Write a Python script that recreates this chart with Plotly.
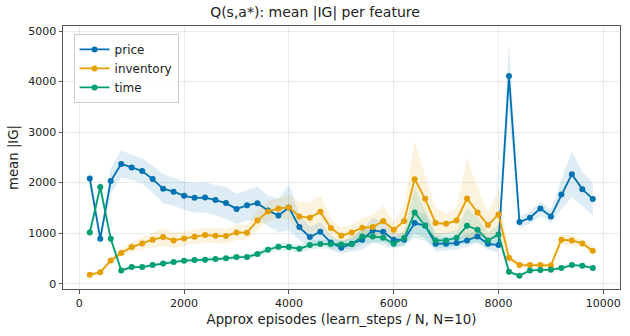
import plotly.graph_objects as go

episodes = list(range(200, 10000, 200))

price = [2080, 890, 2030, 2370, 2300, 2230, 2070, 1880, 1820, 1740,
         1700, 1705, 1655, 1595, 1480, 1550, 1594, 1450, 1350, 1509,
         1120, 922, 1028, 817, 711, 790, 870, 1054, 1028, 870,
         870, 1199, 1150, 790, 790, 804, 856, 935, 790, 764,
         4111, 1219, 1304, 1488, 1330, 1765, 2167, 1871, 1674]
price_sd = [170, 90, 250, 270, 250, 250, 270, 290, 280, 280,
            290, 300, 300, 320, 300, 300, 330, 300, 330, 450,
            250, 200, 200, 150, 120, 150, 200, 250, 200, 150,
            120, 200, 250, 150, 130, 130, 120, 120, 120, 150,
            650, 120, 120, 150, 130, 300, 450, 350, 330]

inventory = [178, 224, 461, 606, 725, 797, 870, 922, 856, 896,
             929, 962, 949, 942, 1014, 1010, 1252, 1429, 1488, 1509,
             1330, 1304, 1423, 1100, 949, 1014, 1107, 1120, 1239, 1067,
             1239, 2069, 1680, 1199, 1186, 1252, 1686, 1410, 1159, 1370,
             514, 369, 369, 369, 362, 870, 856, 797, 652]
inventory_sd = [30, 30, 50, 80, 100, 120, 150, 180, 150, 140,
                140, 150, 150, 150, 150, 150, 200, 200, 200, 250,
                300, 300, 330, 200, 150, 150, 200, 250, 300, 150,
                300, 750, 450, 300, 200, 250, 800, 500, 250, 480,
                80, 50, 50, 50, 50, 100, 100, 80, 80]

time_ = [1014, 1911, 889, 263, 329, 329, 369, 402, 428, 455,
         468, 474, 488, 501, 527, 530, 586, 672, 731, 725,
         692, 764, 784, 784, 777, 784, 935, 935, 909, 790,
         902, 1410, 1146, 856, 856, 909, 1146, 1067, 856, 975,
         237, 158, 263, 270, 277, 310, 369, 356, 310]
time_sd = [100, 150, 80, 50, 40, 40, 40, 40, 40, 40,
           40, 40, 40, 45, 50, 50, 60, 70, 80, 80,
           80, 90, 90, 90, 90, 100, 150, 120, 150, 100,
           150, 500, 300, 150, 150, 150, 350, 250, 150, 200,
           40, 30, 30, 30, 30, 30, 35, 30, 30]

x_ticks = [0, 2000, 4000, 6000, 8000, 10000]
y_ticks = [0, 1000, 2000, 3000, 4000, 5000]

series = [
    ("price", price, price_sd, "#0072B2", "rgba(0,114,178,0.13)"),
    ("inventory", inventory, inventory_sd, "#E69F00", "rgba(230,159,0,0.13)"),
    ("time", time_, time_sd, "#009E73", "rgba(0,158,115,0.13)"),
]

fig = go.Figure()
for name, m, sd, col, fillc in series:
    up = [a + b for a, b in zip(m, sd)]
    lo = [a - b for a, b in zip(m, sd)]
    fig.add_trace(go.Scatter(
        x=episodes + episodes[::-1], y=up + lo[::-1],
        fill="toself", fillcolor=fillc, line=dict(width=0),
        mode="lines", hoverinfo="skip", showlegend=False))

for name, m, sd, col, fillc in series:
    fig.add_trace(go.Scatter(
        x=episodes, y=m, name=name, mode="lines+markers",
        line=dict(color=col, width=1.8),
        marker=dict(color=col, size=6)))

axis_common = dict(
    showline=True, linecolor="#555555", linewidth=1, mirror=True,
    showgrid=True, gridcolor="rgba(0,0,0,0.08)", gridwidth=1,
    ticks="outside", ticklen=3.5, tickcolor="#555555",
    zeroline=False, tickformat="d",
    tickfont=dict(family="DejaVu Sans", size=11, color="#222222"),
)

fig.update_layout(
    width=630, height=336,
    margin=dict(l=63, r=10, t=26, b=47),
    paper_bgcolor="white", plot_bgcolor="white",
    font=dict(family="DejaVu Sans", color="#222222"),
    title=dict(text="Q(s,a*): mean |IG| per feature", x=0.5, xanchor="center",
               y=0.963, yanchor="middle",
               font=dict(family="DejaVu Sans", size=14, color="#222222")),
    xaxis=dict(range=[-311, 10319], tickvals=x_ticks,
               title=dict(text="Approx episodes (learn_steps / N, N=10)",
                          font=dict(family="DejaVu Sans", size=13.3), standoff=5),
               **axis_common),
    yaxis=dict(range=[-105, 5099], tickvals=y_ticks,
               title=dict(text="mean |IG|", font=dict(family="DejaVu Sans", size=13.3),
                          standoff=6),
               **axis_common),
    legend=dict(x=0.019, y=0.97, xanchor="left", yanchor="top",
                bgcolor="rgba(255,255,255,0.8)", bordercolor="#cccccc", borderwidth=1,
                font=dict(family="DejaVu Sans", size=12, color="#222222"),
                itemwidth=30, tracegroupgap=0),
)

fig.write_html("out.html")
